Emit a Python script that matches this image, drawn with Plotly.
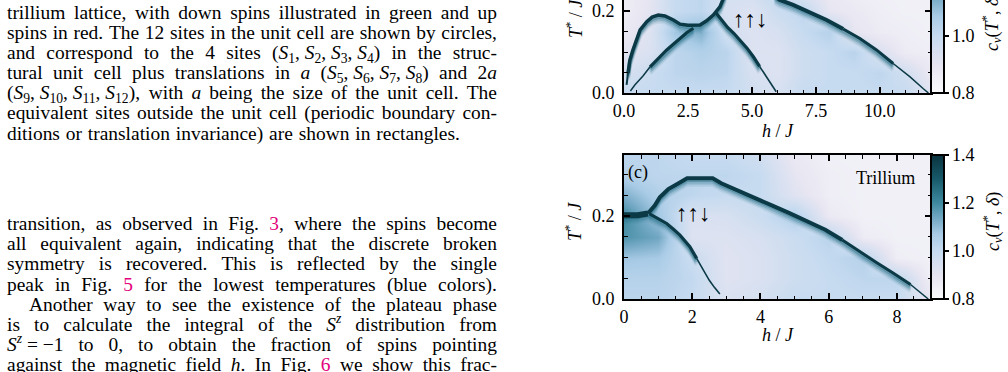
import re
import plotly.graph_objects as go

W, H = 1008, 372
SERIF = "Liberation Serif"

# ---------------- panel (b): background c_v grid ----------------
B_H_GRID = [0, 1, 2, 3, 4, 5, 6, 7, 8, 9, 10, 11, 12]
B_T_GRID = [0.0, 0.05, 0.10, 0.15, 0.20, 0.25]
B_CV = [
    [1.00, 1.00, 1.00, 1.00, 1.00, 0.97, 0.95, 1.00, 1.00, 1.00, 1.00, 1.00, 0.92],
    [0.95, 0.99, 1.02, 1.03, 1.02, 0.95, 0.93, 0.98, 1.00, 1.00, 1.02, 0.97, 0.88],
    [0.91, 0.94, 1.02, 1.05, 1.03, 0.93, 0.93, 0.98, 1.00, 1.03, 0.94, 0.87, 0.86],
    [0.88, 0.93, 1.08, 1.12, 0.97, 0.93, 0.95, 1.00, 1.04, 0.90, 0.87, 0.86, 0.85],
    [0.86, 0.91, 1.00, 1.02, 0.95, 0.93, 0.99, 1.02, 0.90, 0.88, 0.86, 0.85, 0.85],
    [0.86, 0.90, 1.00, 1.02, 0.96, 0.97, 1.02, 0.92, 0.88, 0.86, 0.85, 0.85, 0.85],
]
# panel (b) transition lines (h/J, T*/J)
B_OUTER_H = [0.10, 0.16, 0.23, 0.35, 0.50, 0.63, 0.89, 1.10, 1.34, 1.60, 1.93, 2.19, 2.50, 2.97, 3.23, 3.49, 3.75, 3.95]
B_OUTER_T = [0.020, 0.049, 0.080, 0.105, 0.129, 0.154, 0.174, 0.185, 0.190, 0.188, 0.178, 0.168, 0.165, 0.166, 0.176, 0.190, 0.210, 0.240]
B_LOWER_H = [0.25, 0.43, 0.75, 1.02, 1.35, 1.67, 1.95, 2.19, 2.45, 2.71]
B_LOWER_T = [0.005, 0.020, 0.042, 0.064, 0.085, 0.105, 0.120, 0.133, 0.147, 0.158]
B_DOME_H = [3.60, 3.85, 4.05, 4.30, 4.53, 4.80, 5.05, 5.30, 5.57, 5.83, 5.95]
B_DOME_T = [0.195, 0.175, 0.160, 0.145, 0.129, 0.110, 0.089, 0.065, 0.040, 0.015, 0.003]
B_DIAG_H = [5.90, 6.09, 6.61, 7.25, 7.92, 8.57, 9.22, 9.87, 10.52, 11.17, 11.69, 11.90]
B_DIAG_T = [0.235, 0.227, 0.215, 0.197, 0.178, 0.156, 0.133, 0.105, 0.072, 0.040, 0.011, 0.000]

# ---------------- panel (c): Trillium ----------------
C_H_GRID = [0, 1, 2, 3, 4, 5, 6, 7, 8, 9]
C_T_GRID = [0.0, 0.05, 0.10, 0.15, 0.20, 0.25, 0.30, 0.35]
C_CV = [
    [1.03, 1.03, 1.00, 0.94, 0.96, 1.00, 1.00, 1.00, 1.00, 0.90],
    [1.04, 1.04, 1.01, 0.92, 0.94, 0.98, 1.00, 1.02, 1.02, 0.85],
    [1.08, 1.07, 0.99, 0.92, 0.94, 0.98, 1.01, 1.04, 0.86, 0.85],
    [1.18, 1.14, 0.93, 0.93, 0.95, 0.99, 1.03, 0.87, 0.85, 0.85],
    [1.20, 1.08, 0.94, 0.95, 0.99, 1.05, 0.88, 0.85, 0.85, 0.85],
    [1.12, 1.05, 1.02, 1.00, 1.00, 0.92, 0.86, 0.85, 0.85, 0.85],
    [1.05, 1.02, 1.02, 1.02, 1.00, 0.90, 0.86, 0.85, 0.85, 0.85],
    [1.02, 1.02, 1.00, 1.00, 0.97, 0.88, 0.85, 0.85, 0.85, 0.85],
]
C_OUTER_H = [0.00, 0.40, 0.70, 0.90, 1.05, 1.30, 1.60, 1.85, 2.20, 2.60, 2.85, 3.20, 3.80, 4.35, 4.85, 5.40, 5.90, 6.40, 6.90, 7.40, 7.90, 8.40, 8.75, 8.92]
C_OUTER_T = [0.202, 0.202, 0.206, 0.225, 0.245, 0.265, 0.279, 0.291, 0.291, 0.291, 0.279, 0.267, 0.246, 0.225, 0.207, 0.186, 0.167, 0.142, 0.114, 0.088, 0.062, 0.035, 0.012, 0.000]
C_INNER_H = [0.75, 0.86, 1.05, 1.25, 1.45, 1.64, 1.93, 2.13, 2.32, 2.50, 2.65, 2.81]
C_INNER_T = [0.205, 0.200, 0.190, 0.182, 0.168, 0.154, 0.126, 0.098, 0.070, 0.045, 0.028, 0.012]

CB_TICKS = [0.8, 1.0, 1.2, 1.4]
B_XTICK_STEP, C_XTICK_STEP = 2.5, 2

# ---------------- text of the page ----------------
PARA1 = [
    ("trillium lattice, with down spins illustrated in green and up", True),
    ("spins in red. The 12 sites in the unit cell are shown by circles,", True),
    ("and correspond to the 4 sites (<i>S</i><sub>1</sub>,~<i>S</i><sub>2</sub>,~<i>S</i><sub>3</sub>,~<i>S</i><sub>4</sub>) in the struc-", True),
    ("tural unit cell plus translations in <i>a</i> (<i>S</i><sub>5</sub>,~<i>S</i><sub>6</sub>,~<i>S</i><sub>7</sub>,~<i>S</i><sub>8</sub>) and 2<i>a</i>", True),
    ("(<i>S</i><sub>9</sub>,~<i>S</i><sub>10</sub>,~<i>S</i><sub>11</sub>,~<i>S</i><sub>12</sub>), with <i>a</i> being the size of the unit cell. The", True),
    ("equivalent sites outside the unit cell (periodic boundary con-", True),
    ("ditions or translation invariance) are shown in rectangles.", False),
]
PARA2 = [
    ("transition, as observed in Fig. {3}, where the spins become", True, 0),
    ("all equivalent again, indicating that the discrete broken", True, 0),
    ("symmetry is recovered. This is reflected by the single", True, 0),
    ("peak in Fig. {5} for the lowest temperatures (blue colors).", True, 0),
    ("Another way to see the existence of the plateau phase", True, 22),
    ("is to calculate the integral of the <i>S</i><sup><i>z</i></sup> distribution from", True, 0),
    ("<i>S</i><sup><i>z</i></sup>~=~\u22121 to 0, to obtain the fraction of spins pointing", True, 0),
    ("against the magnetic field <i>h</i>. In Fig. {6} we show this frac-", True, 0),
]

# ---------------- style ----------------
CSCALE = [[0.0, '#fbfbfd'], [0.1667, '#e6e5f1'], [0.3333, '#c7dbf0'], [0.45, '#a9cbe6'],
          [0.55, '#78abc7'], [0.6667, '#3f8aa0'], [0.8333, '#17596a'], [1.0, '#0a323e']]
LINE_DARK = '#0b3946'

_W = {}
for ch, w in zip("abcdefghijklmnopqrstuvwxyz", [444, 500, 444, 500, 444, 333, 500, 500, 278, 278, 500, 278, 778, 500, 500, 500, 500, 333, 389, 278, 500, 500, 722, 500, 500, 444]):
    _W[ch] = w
for ch, w in zip("ABCDEFGHIJKLMNOPQRSTUVWXYZ", [722, 667, 667, 722, 611, 556, 722, 722, 333, 389, 722, 611, 889, 722, 722, 556, 722, 667, 556, 611, 722, 722, 944, 722, 722, 611]):
    _W[ch] = w
for ch in "0123456789":
    _W[ch] = 500
_W.update({' ': 250, '.': 250, ',': 250, '(': 333, ')': 333, '-': 333, '=': 564, '\u2212': 564, '/': 278})
_WI = {'S': 500, 'a': 500, 'h': 500, 'z': 389}


def width_em(html):
    scale, italic, tot = 1.0, False, 0.0
    for tok in re.split(r'(<[^>]+>)', html):
        if tok.startswith('<'):
            name = tok.strip('<>/').split()[0].lower()
            closing = tok.startswith('</')
            if name in ('sub', 'sup'):
                scale = 1.0 if closing else 0.7
            elif name == 'i':
                italic = not closing
            continue
        for ch in tok:
            w = _WI.get(ch, _W.get(ch, 500)) if italic else _W.get(ch, 500)
            tot += w * scale
    return tot / 1000.0


def words_of(line):
    out = []
    for w in line.split(' '):
        w = w.replace('~', ' ')
        w = re.sub(r'\{(\d)\}', r'<span style="color:#e4007c">\1</span>', w)
        out.append(w)
    return out


X_LEFT, X_RIGHT = 7.0, 497.0
SPACE_NAT = 0.3
w7 = words_of(PARA1[-1][0])
FS = 453.0 / (sum(width_em(w) for w in w7) + SPACE_NAT * (len(w7) - 1))

tx, ty, tt = [], [], []


def place(line, justify, indent, baseline):
    ws = words_of(line)
    wd = [width_em(w) * FS for w in ws]
    x0 = X_LEFT + indent
    gap = (X_RIGHT - x0 - sum(wd)) / (len(ws) - 1) if justify else SPACE_NAT * FS
    x = x0
    for w, d in zip(ws, wd):
        tx.append(x)
        ty.append(baseline - 0.25 * FS)
        tt.append(w)
        x += d + gap


P1_BASE, P2_BASE, LSKIP = 18.5, 230.0, 20.2
for k, (ln, j) in enumerate(PARA1):
    place(ln, j, 0, P1_BASE + k * LSKIP)
for k, (ln, j, ind) in enumerate(PARA2):
    place(ln, j, ind, P2_BASE + k * LSKIP)

# ---------------- figure ----------------
fig = go.Figure()

fig.add_trace(go.Heatmap(x=B_H_GRID, y=B_T_GRID, z=B_CV, coloraxis='coloraxis', zsmooth='best',
                         xaxis='x', yaxis='y', hoverinfo='skip'))
fig.add_trace(go.Heatmap(x=C_H_GRID, y=C_T_GRID, z=C_CV, coloraxis='coloraxis2', zsmooth='best',
                         xaxis='x2', yaxis='y2', hoverinfo='skip'))

# soft one-sided shading under each transition line (offset in T*, width px, opacity)
HALOS = [(-0.016, 4, 0.08), (-0.012, 4, 0.15), (-0.008, 4, 0.25), (-0.004, 4, 0.40)]


def add_line(hs, ts, ax, segs):
    xa, ya = ('x', 'y') if ax == 1 else ('x2', 'y2')
    thick = [(i0, i1) for i0, i1, wdt in segs if wdt >= 3]
    s0, s1 = min(a for a, b in thick), max(b for a, b in thick)
    for dt, wdt, op in HALOS:
        fig.add_trace(go.Scatter(x=hs[s0:s1 + 1], y=[t + dt for t in ts[s0:s1 + 1]], mode='lines',
                                 xaxis=xa, yaxis=ya, hoverinfo='skip', opacity=op,
                                 line=dict(color='#1e6a80', width=wdt), showlegend=False))
    for i0, i1, wdt in segs:
        fig.add_trace(go.Scatter(x=hs[i0:i1 + 1], y=ts[i0:i1 + 1], mode='lines', xaxis=xa, yaxis=ya,
                                 hoverinfo='skip', line=dict(color=LINE_DARK, width=wdt), showlegend=False))


add_line(B_OUTER_H, B_OUTER_T, 1, [(0, 1, 2), (1, 17, 3.5)])
add_line(B_LOWER_H, B_LOWER_T, 1, [(0, 3, 1.5), (3, 9, 3.2)])
add_line(B_DOME_H, B_DOME_T, 1, [(0, 7, 3.2), (7, 10, 1.6)])
add_line(B_DIAG_H, B_DIAG_T, 1, [(0, 5, 4), (5, 8, 3), (8, 11, 1.5)])
add_line(C_OUTER_H, C_OUTER_T, 2, [(0, 2, 6), (2, 17, 4), (17, 21, 3), (21, 23, 1.5)])
add_line(C_INNER_H, C_INNER_T, 2, [(0, 7, 3.2), (7, 11, 1.6)])

fig.add_trace(go.Scatter(x=tx, y=ty, text=tt, mode='text', textposition='middle right',
                         textfont=dict(family=SERIF, size=FS, color='black'),
                         xaxis='x3', yaxis='y3', cliponaxis=False, hoverinfo='skip', showlegend=False))

tickfont = dict(family=SERIF, size=18, color='black')
base_ax = dict(showline=True, linecolor='black', linewidth=2, ticks='inside', ticklen=6, tickwidth=1.5,
               tickcolor='black', showgrid=False, zeroline=False, tickfont=tickfont, fixedrange=True)


def minor(d):
    return dict(ticks='inside', ticklen=3.5, tickwidth=1, tickcolor='black', dtick=d, showgrid=False)


XL, XR = 624 / W, 931 / W
fig.update_layout(
    width=W, height=H, margin=dict(l=0, r=0, t=0, b=0, autoexpand=False),
    paper_bgcolor='#ffffff', plot_bgcolor='rgba(0,0,0,0)', showlegend=False,
    xaxis=dict(base_ax, domain=[XL, XR], range=[0, 12], dtick=B_XTICK_STEP, tick0=0, tickformat='.1f',
               minor=minor(0.5), mirror=False, anchor='y'),
    yaxis=dict(base_ax, domain=[1 - 93 / H, 1], range=[0, 93 / 82 * 0.2], dtick=0.2, tick0=0, tickformat='.1f',
               minor=minor(0.05), mirror='allticks', anchor='x', ticklabelstandoff=4),
    xaxis2=dict(base_ax, domain=[XL, XR], range=[0, 9], dtick=C_XTICK_STEP, tick0=0,
                minor=minor(0.5), mirror='allticks', anchor='y2'),
    yaxis2=dict(base_ax, domain=[1 - 299 / H, 1 - 155 / H], range=[0, 144 / 83 * 0.2], dtick=0.2, tick0=0,
                tickformat='.1f', minor=minor(0.05), mirror='allticks', anchor='x2', ticklabelstandoff=4),
    xaxis3=dict(domain=[0, 1], range=[0, W], visible=False, anchor='y3', fixedrange=True),
    yaxis3=dict(domain=[0, 1], range=[H, 0], visible=False, anchor='x3', fixedrange=True),
)

cb_common = dict(thickness=13, xanchor='left', x=931 / W, xpad=0, ypad=0, lenmode='pixels',
                 yanchor='bottom', outlinewidth=2, outlinecolor='black', ticks='outside', ticklen=4,
                 tickwidth=1.5, tickcolor='black', tickvals=CB_TICKS, ticktext=[f'{v:.1f}' for v in CB_TICKS],
                 tickfont=tickfont)
fig.update_layout(
    coloraxis=dict(colorscale=CSCALE, cmin=0.8, cmax=1.4,
                   colorbar=dict(cb_common, len=171, y=1 - 93 / H)),
    coloraxis2=dict(colorscale=CSCALE, cmin=0.8, cmax=1.4,
                    colorbar=dict(cb_common, len=144, y=1 - 299 / H)),
)


def ann(text, x, y, size=18, angle=0, xanchor='center', family=SERIF):
    fig.add_annotation(text=text, x=x / W, y=1 - y / H, xref='paper', yref='paper', showarrow=False,
                       textangle=angle, xanchor=xanchor, yanchor='middle',
                       font=dict(family=family, size=size, color='black'))


ann('<i>h</i> / <i>J</i>', 778, 131)
ann('<i>h</i> / <i>J</i>', 778, 335)
ann('<i>T</i><sup>*</sup> / <i>J</i>', 575, 19, angle=-90)
ann('<i>T</i><sup>*</sup> / <i>J</i>', 573, 222, angle=-90)
ann('<i>c<sub>v</sub></i>(<i>T</i><sup>*</sup>, <i>\u03b4</i>)', 992, 22, angle=-90)
ann('<i>c<sub>v</sub></i>(<i>T</i><sup>*</sup>, <i>\u03b4</i>)', 992, 222, angle=-90)
ann('\u2191\u2191\u2193', 750, 20, size=23)
ann('\u2191\u2191\u2193', 693, 213, size=23)
ann('(c)', 638, 172)
ann('Trillium', 885, 178)

fig.write_html("out.html")
